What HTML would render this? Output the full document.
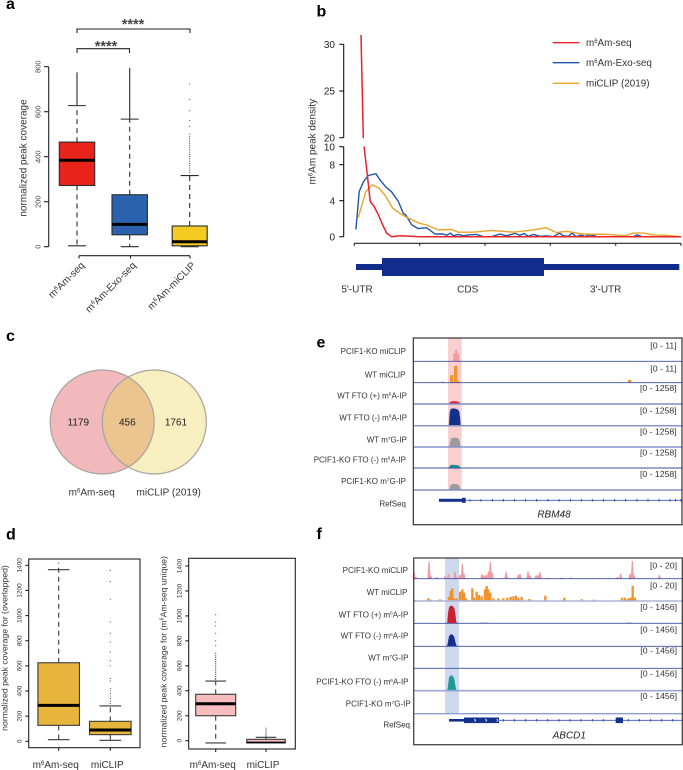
<!DOCTYPE html>
<html lang="en">
<head>
<meta charset="utf-8">
<title>m6Am peak figure</title>
<style>
html,body{margin:0;padding:0;background:#fff;}
svg{display:block;font-family:"Liberation Sans",Arial,sans-serif;}
.panel{font-size:16px;font-weight:bold;fill:#000;}
</style>
</head>
<body>
<svg id="fig" xmlns="http://www.w3.org/2000/svg" width="683" height="770" viewBox="0 0 683 770">
  <rect x="0" y="0" width="683" height="770" fill="#fff"/>
  <text class="panel" x="6" y="9">a</text>
  <text class="panel" x="316.5" y="16.5">b</text>
  <text class="panel" x="6" y="341">c</text>
  <text class="panel" x="6" y="539.5">d</text>
  <text class="panel" x="316.5" y="347.5">e</text>
  <text class="panel" x="316.5" y="539">f</text>
  <g id="panelA"></g>
  <g id="panelB"></g>
  <g id="panelC"></g>
  <g id="panelD"></g>
  <g id="panelE"></g>
  <g id="panelF"></g>
</svg>
<script>
// ---------- Panel a data ----------
const aCategories = ['m^6Am-seq', 'm^6Am-Exo-seq', 'm^6Am-miCLIP'];
const aQ1 = [272, 53, 4];
const aMedian = [384, 99, 22];
const aQ3 = [465, 231, 92];
const aCapHigh = [627, 567, 316];
const aCapLow = [4, 0, 0];
const aDenseTop = [775, 795, 0];
const aOutliers = [[], [], [723, 655, 604, 560, 535, 500, 490, 480, 470, 460, 450, 440, 430, 420, 410, 400, 390, 380, 370, 360, 350, 340, 330]];
const aTicks = [0, 200, 400, 600, 800];

// ---------- Panel b data (x in percent of the metagene, y in density) ----------
const bTicksLower = [0, 4, 8, 10];
const bTicksUpper = [20, 25, 30];
const bPosTicks = [0, 20, 40, 60, 80, 100];
const redX = [2.04, 2.76, 3, 4.9, 6, 7.3, 8.7, 9.9, 11.4, 14, 17, 20.1, 100];
const redY = [31, 20, 10, 3.9, 3.4, 2.5, 1.3, 0.4, 0, 0.1, 0.05, 0, 0];
const blueX = [0.5, 1.5, 2.8, 4.3, 6.6, 7.9, 9.7, 11.4, 13.5, 15, 15.8, 17.6, 19.6, 22.1, 24.7, 27.2, 28.3, 29.5, 30.3, 31.8, 33.4, 34.9, 37.4, 39.5, 42, 44.6, 46.6, 49.2, 50.7, 51.9, 53.3, 54.8, 56.8, 58.9, 60.9, 62.8, 64, 65.5, 66.7, 67.9, 69.6, 70.6, 71.6, 73.2, 74.2, 85.4, 86.6, 88, 100];
const blueY = [0.8, 5, 6.1, 6.8, 7, 6.3, 5.5, 5, 3.9, 2.6, 2.4, 1.3, 0.9, 1, 0.3, 0.3, 0.15, 0.4, 0.1, 0.25, 0.1, 0.2, 0.25, 0, 0, 0.3, 0.1, 0.35, 0.15, 0.35, 0.05, 0.25, 0.05, 0.1, 0, 0.4, 0.1, 0.05, 0.4, 0, 0.2, 0, 0.2, 0.15, 0, 0, 0.2, 0, 0];
const orangeX = [1.2, 3.5, 5.5, 7.6, 9.4, 11.7, 13.5, 15.8, 18.1, 19.9, 22.1, 25.7, 29.8, 31.8, 36.4, 42, 48.7, 54.8, 58.7, 61.9, 65, 69.6, 77.8, 82.9, 85.4, 88.5, 91.5, 95.6, 100];
const orangeY = [2.1, 5, 5.75, 5.4, 4.6, 3.2, 2.7, 2.2, 1.8, 1.5, 1.3, 0.75, 0.8, 0.5, 0.5, 0.7, 0.5, 0.75, 1, 0.45, 0.6, 0.3, 0.25, 0.1, 0.4, 0.4, 0.2, 0.15, 0];
const bLegendLabels = ['m^6Am-seq', 'm^6Am-Exo-seq', 'miCLIP (2019)'];

// ---------- Panel c data ----------
const vennCounts = [1179, 456, 1761];
const vennLabels = ['m^6Am-seq', 'miCLIP (2019)'];

// ---------- Panel d data ----------
const dTicks = [0, 200, 400, 600, 800, 1000, 1200, 1400];
const dCategories = ['m^6Am-seq', 'miCLIP'];
const dLeftQ1 = [127, 53];
const dLeftMedian = [286, 90];
const dLeftQ3 = [625, 159];
const dLeftCapHigh = [1365, 281];
const dLeftCapLow = [13, 8];
const dLeftWhiskerEnd = [1420, 281];
const dLeftOutliers = [[], [1360, 1270, 1130, 950, 860, 790, 710, 640, 600, 500, 480, 420, 400, 380, 360, 340, 320, 300]];
const dRightQ1 = [200, -18];
const dRightMedian = [296, -13];
const dRightQ3 = [372, 11];
const dRightCapHigh = [478, 27];
const dRightCapLow = [-18, -18];
const dRightOutliers = [[1010, 950, 920, 860, 800, 760, 700, 680, 665, 650, 635, 620, 605, 590, 575, 560, 545, 530, 515, 500, 490], [100, 85, 70, 55, 45, 35]];

// ---------- Panel e data (window units across the browser view, signal heights) ----------
const eLabels = ['PCIF1-KO miCLIP', 'WT miCLIP', 'WT FTO (+) m^6A-IP', 'WT FTO (-) m^6A-IP', 'WT m^7G-IP', 'PCIF1-KO FTO (-) m^6A-IP', 'PCIF1-KO m^7G-IP', 'RefSeq'];
const eRanges = ['[0 - 11]', '[0 - 11]', '[0 - 1258]', '[0 - 1258]', '[0 - 1258]', '[0 - 1258]', '[0 - 1258]'];
const eKoClipX = [460, 465, 472];
const eKoClipW = [5, 7, 6];
const eKoClipH = [24, 34, 22];
const eWtClipX = [424, 450, 462, 472, 984];
const eWtClipW = [8, 10, 10, 6, 10];
const eWtClipH = [3, 23, 50, 6, 8];
const ePeakX = [445, 447, 449, 452, 458, 468, 474, 478, 481, 482];
const eRedH = [0, 2, 5, 7, 8, 8, 7, 5, 2, 0];
const eNavyH = [0, 4, 40, 50, 52, 51, 48, 42, 20, 0];
const eGrayH = [0, 0, 8, 24, 28, 28, 26, 22, 8, 0];
const eTealH = [0, 2, 6, 9, 10, 9, 8, 6, 2, 0];
const eGray2H = [0, 0, 6, 15, 18, 18, 16, 13, 5, 0];
const eIntronTicks = [510, 543, 577, 610, 644, 677, 710, 744, 777, 811, 844, 877, 911, 944, 977, 1011, 1044, 1077, 1110, 1127, 1143];

// ---------- Panel f data ----------
const fLabels = ['PCIF1-KO miCLIP', 'WT miCLIP', 'WT FTO (+) m^6A-IP', 'WT FTO (-) m^6A-IP', 'WT m^7G-IP', 'PCIF1-KO FTO (-) m^6A-IP', 'PCIF1-KO m^7G-IP', 'RefSeq'];
const fRanges = ['[0 - 20]', '[0 - 20]', '[0 - 1456]', '[0 - 1456]', '[0 - 1456]', '[0 - 1456]', '[0 - 1456]'];
const fKoClipX = [342, 348, 387, 392, 410, 435, 445, 465, 470, 480, 487, 492, 546, 552, 558, 565, 571, 576, 618, 622, 655, 660, 684, 690, 708, 714, 720, 745, 785, 812, 878, 925, 952, 962, 990, 997, 1002, 1078];
const fKoClipH = [22, 5, 52, 10, 5, 8, 15, 22, 5, 12, 45, 15, 14, 10, 12, 22, 50, 20, 20, 6, 12, 15, 22, 10, 10, 12, 20, 3, 4, 4, 2, 3, 5, 15, 15, 53, 10, 12];
const fWtClipX = [345, 365, 385, 392, 420, 447, 452, 457, 462, 470, 480, 487, 492, 498, 505, 517, 522, 530, 537, 545, 555, 560, 565, 571, 580, 595, 610, 622, 632, 640, 648, 655, 665, 688, 736, 793, 845, 882, 966, 975, 985, 992, 998, 1005];
const fWtClipH = [3, 1, 8, 4, 5, 12, 30, 38, 8, 8, 28, 35, 25, 8, 3, 38, 10, 28, 18, 14, 35, 45, 35, 25, 8, 8, 8, 10, 12, 14, 16, 10, 12, 6, 16, 10, 5, 4, 10, 10, 8, 10, 45, 10];
const fPeakX = [439, 442, 444, 447, 452, 458, 463, 466, 469, 473];
const fRedH = [0, 3, 30, 48, 53, 52, 46, 30, 4, 0];
const fNavyH = [0, 3, 14, 30, 36, 35, 28, 14, 3, 0];
const fTealH = [0, 2, 14, 40, 46, 45, 36, 16, 3, 0];
const fFaintRedX = [535, 545, 562, 572, 975, 982, 992, 998];
const fFaintRedH = [0, 3, 3, 0, 0, 3, 3, 0];
const fIntronTicks = [610, 643, 677, 710, 743, 777, 810, 843, 877, 910, 985, 1018, 1052, 1085, 1118];

// ---------- helpers ----------
const NS = 'http://www.w3.org/2000/svg';
function mk(parent, tag, attrs, name) {
  const el = document.createElementNS(NS, tag);
  for (const k in attrs) el.setAttribute(k, attrs[k]);
  
  
  parent.appendChild(el);
  return el;
}
function txt(parent, str, attrs, name) {
  const el = mk(parent, 'text', attrs, name);
  const fs = parseFloat(attrs['font-size'] || 10);
  const parts = String(str).split(/\^(\d)/);
  if (parts.length === 1) { el.textContent = str; return el; }
  const up = fs * 0.32;
  const t1 = document.createElementNS(NS, 'tspan');
  t1.textContent = parts[0];
  el.appendChild(t1);
  const t2 = document.createElementNS(NS, 'tspan');
  t2.setAttribute('dy', -up);
  t2.setAttribute('font-size', fs * 0.6);
  t2.textContent = parts[1];
  el.appendChild(t2);
  const t3 = document.createElementNS(NS, 'tspan');
  t3.setAttribute('dy', up);
  t3.textContent = parts[2];
  el.appendChild(t3);
  return el;
}
function line(parent, x1, y1, x2, y2, stroke, w, name, dash) {
  const a = {x1: x1, y1: y1, x2: x2, y2: y2, stroke: stroke, 'stroke-width': w};
  if (dash) a['stroke-dasharray'] = dash;
  return mk(parent, 'line', a, name);
}
function drawBox(g, o) {
  const {cx, half, capHalf, y, q1, med, q3, capHi, capLo, top, outliers, fill, name} = o;
  const ink = o.ink || '#2b2b2b';
  const dash = '5 4';
  line(g, cx, y(q3), cx, y(top !== undefined ? Math.max(top, capHi) : capHi), ink, 1.1, name + '-upper-whisker', dash);
  line(g, cx, y(q1), cx, y(capLo), ink, 1.1, name + '-lower-whisker', dash);
  line(g, cx - capHalf, y(capHi), cx + capHalf, y(capHi), ink, 1.1, name + '-upper-cap');
  line(g, cx - capHalf, y(capLo), cx + capHalf, y(capLo), ink, 1.1, name + '-lower-cap');
  (outliers || []).forEach(v => {
    mk(g, 'circle', {cx: cx, cy: y(v), r: 0.55, fill: '#333'}, name + '-outlier');
  });
  mk(g, 'rect', {x: cx - half, y: y(q3), width: half * 2, height: y(q1) - y(q3), fill: fill, stroke: ink, 'stroke-width': 1.1}, name + '-box');
  line(g, cx - half, y(med), cx + half, y(med), '#000', o.medW || 3, name + '-median');
}

// ---------- Panel a ----------
(function () {
  const g = document.getElementById('panelA');
  const y = v => 246.7 - v * 0.225;
  const centers = [77, 129.7, 189.7];
  const halves = [17.7, 17.7, 17.5];
  const colors = ['#e8231b', '#2a62ae', '#f3cb23'];
  line(g, 48.7, y(0), 48.7, y(800), '#222', 1.1, 'y-axis-line');
  aTicks.forEach(t => {
    line(g, 44, y(t), 48.7, y(t), '#222', 1.1, 'y-axis-tick');
    txt(g, t, {x: 40.7, y: y(t), transform: 'rotate(-90 40.7 ' + y(t) + ')', 'font-size': 7.5, fill: '#444', 'text-anchor': 'middle'}, 'y-tick-label');
  });
  txt(g, 'normalized peak coverage', {x: 26.5, y: 158, transform: 'rotate(-90 26.5 158)', 'font-size': 10, fill: '#333', 'text-anchor': 'middle'}, 'y-axis-title');
  aCategories.forEach((c, i) => {
    if (aDenseTop[i]) line(g, centers[i], y(aCapHigh[i]), centers[i], y(aDenseTop[i]), '#2b2b2b', 1.1, 'outlier-run-' + i);
    drawBox(g, {cx: centers[i], half: halves[i], capHalf: 9, y: y, q1: aQ1[i], med: aMedian[i], q3: aQ3[i], capHi: aCapHigh[i], capLo: aCapLow[i], outliers: aOutliers[i], fill: colors[i], name: 'box-' + i});
  });
  const axisTicks = [79, 130.5, 190];
  line(g, 79, 255.7, 190, 255.7, '#222', 1.1, 'x-axis-line');
  axisTicks.forEach((x, i) => {
    line(g, x, 255.7, x, 258.5, '#222', 1.1, 'x-axis-tick');
    txt(g, aCategories[i], {x: x + 6, y: 266, transform: 'rotate(-45 ' + (x + 6) + ' 266)', 'font-size': 10, fill: '#333', 'text-anchor': 'end'}, 'x-tick-label');
  });
  mk(g, 'path', {d: 'M77 33V29H190V33', fill: 'none', stroke: '#222', 'stroke-width': 1.1}, 'significance-bracket-top');
  mk(g, 'path', {d: 'M77 53V48.7H129.5V53', fill: 'none', stroke: '#222', 'stroke-width': 1.1}, 'significance-bracket-lower');
  txt(g, '****', {x: 133, y: 29, 'font-size': 14.5, 'font-weight': 'bold', fill: '#444', 'text-anchor': 'middle'}, 'significance-stars-top');
  txt(g, '****', {x: 106, y: 51, 'font-size': 14.5, 'font-weight': 'bold', fill: '#444', 'text-anchor': 'middle'}, 'significance-stars-lower');
})();

// ---------- Panel b ----------
(function () {
  const g = document.getElementById('panelB');
  const x = p => 354.3 + p * 3.267;
  const y = v => {
    if (v <= 10) return 236.7 - v * 9;
    if (v < 20) return 146.7 - (v - 10) * 0.9;
    return 137.7 - (v - 20) * 9.34;
  };
  line(g, 343.7, 236.7, 343.7, 146.7, '#111', 1.1, 'y-axis-lower');
  line(g, 343.7, 137.7, 343.7, 44.3, '#111', 1.1, 'y-axis-upper');
  bTicksLower.concat(bTicksUpper).forEach(t => {
    line(g, 339.3, y(t), 343.7, y(t), '#111', 1.1, 'y-axis-tick');
    txt(g, t, {x: 335, y: y(t) + 3.6, 'font-size': 10, fill: '#222', 'text-anchor': 'end'}, 'y-tick-label');
  });
  txt(g, 'm^6Am peak density', {x: 315.5, y: 141.7, transform: 'rotate(-90 315.5 141.7)', 'font-size': 10, fill: '#333', 'text-anchor': 'middle'}, 'y-axis-title');
  line(g, x(0), 243.3, x(100), 243.3, '#222', 1.1, 'x-axis-line');
  bPosTicks.forEach(t => line(g, x(t), 243.3, x(t), 245.8, '#222', 1.1, 'x-axis-tick'));
  const series = [[blueX, blueY, '#2256a8', 'exo-seq-line', 1.4], [orangeX, orangeY, '#e9a32a', 'miclip-line', 1.4], [redX, redY, '#e8232a', 'm6am-seq-line', 1.5]];
  series.forEach(s => {
    const pts = s[0].map((p, i) => x(p).toFixed(1) + ',' + y(s[1][i]).toFixed(1)).join(' ');
    mk(g, 'polyline', {points: pts, fill: 'none', stroke: s[2], 'stroke-width': s[4], 'stroke-linejoin': 'round'}, s[3]);
  });
  mk(g, 'rect', {x: 355, y: 138.2, width: 20, height: 8.3, fill: '#fff'}, 'axis-break-gap');
  const legendColors = ['#e8232a', '#2256a8', '#e9a32a'];
  const legendY = [42.7, 62.7, 83.3];
  bLegendLabels.forEach((l, i) => {
    line(g, 552.7, legendY[i], 579.3, legendY[i], legendColors[i], 1.4, 'legend-line');
    txt(g, l, {x: 586, y: legendY[i] + 3.4, 'font-size': 9.9, fill: '#333'}, 'legend-label');
  });
  mk(g, 'rect', {x: 356, y: 264, width: 323.3, height: 6, fill: '#122c8c'}, 'utr-bar');
  mk(g, 'rect', {x: 382, y: 258, width: 162, height: 18, fill: '#122c8c'}, 'cds-bar');
  txt(g, "5'-UTR", {x: 357, y: 292.7, 'font-size': 10, fill: '#333', 'text-anchor': 'middle'}, 'five-utr-label');
  txt(g, 'CDS', {x: 467.7, y: 292.7, 'font-size': 10, fill: '#333', 'text-anchor': 'middle'}, 'cds-label');
  txt(g, "3'-UTR", {x: 605.7, y: 292.7, 'font-size': 10, fill: '#333', 'text-anchor': 'middle'}, 'three-utr-label');
})();

// ---------- Panel c ----------
(function () {
  const g = document.getElementById('panelC');
  const ry = 52;
  const cxL = 102.2, cxR = 154.3, cy = 422;
  mk(g, 'circle', {cx: cxL, cy: cy, r: ry, fill: '#f2b9bc'}, 'venn-circle-left');
  mk(g, 'circle', {cx: cxR, cy: cy, r: ry, fill: '#f7efc0'}, 'venn-circle-right');
  const h = Math.sqrt(ry * ry - Math.pow((cxR - cxL) / 2, 2));
  const mx = (cxL + cxR) / 2;
  mk(g, 'path', {d: 'M' + mx + ' ' + (cy - h) + 'A' + ry + ' ' + ry + ' 0 0 1 ' + mx + ' ' + (cy + h) + 'A' + ry + ' ' + ry + ' 0 0 1 ' + mx + ' ' + (cy - h) + 'Z', fill: '#ebc48f'}, 'venn-overlap');
  mk(g, 'circle', {cx: cxL, cy: cy, r: ry, fill: 'none', stroke: '#a8a4a0', 'stroke-width': 1.2}, 'venn-outline-left');
  mk(g, 'circle', {cx: cxR, cy: cy, r: ry, fill: 'none', stroke: '#a8a4a0', 'stroke-width': 1.2}, 'venn-outline-right');
  const countX = [78.3, 127.3, 176];
  vennCounts.forEach((c, i) => txt(g, c, {x: countX[i], y: 425.5, 'font-size': 10, fill: '#222', 'text-anchor': 'middle'}, 'venn-count'));
  const labelX = [91.7, 168.7];
  vennLabels.forEach((l, i) => txt(g, l, {x: labelX[i], y: 495.7, 'font-size': 10, fill: '#333', 'text-anchor': 'middle'}, 'venn-label'));
})();

// ---------- Panel d ----------
(function () {
  const g = document.getElementById('panelD');
  function axes(left, right, top, bottom, y, labelX, titleX, titleY, title, centers, name) {
    mk(g, 'rect', {x: left, y: top, width: right - left, height: bottom - top, fill: 'none', stroke: '#222', 'stroke-width': 1.1}, name + '-frame');
    dTicks.forEach(t => {
      line(g, left - 3.4, y(t), left, y(t), '#222', 1.1, name + '-y-tick');
      txt(g, t, {x: labelX, y: y(t), transform: 'rotate(-90 ' + labelX + ' ' + y(t) + ')', 'font-size': 6.5, fill: '#333', 'text-anchor': 'middle'}, name + '-y-tick-label');
    });
    txt(g, title, {x: titleX, y: titleY, transform: 'rotate(-90 ' + titleX + ' ' + titleY + ')', 'font-size': 8.7, fill: '#333', 'text-anchor': 'middle'}, name + '-y-axis-title');
    centers.forEach((c, i) => {
      line(g, c, bottom, c, bottom + 3, '#222', 1.1, name + '-x-tick');
      txt(g, dCategories[i], {x: c - 3, y: 768, 'font-size': 10, fill: '#333', 'text-anchor': 'middle'}, name + '-x-tick-label');
    });
  }
  const yL = v => 741.3 - v * 0.1257;
  const yR = v => 740.7 - v * 0.1248;
  const cL = [58.7, 110.3], cR = [215.7, 266];
  axes(28.7, 140, 559, 747.7, yL, 21.3, 7.3, 648, 'normalized peak coverage for (overlapped)', cL, 'overlapped-plot');
  axes(188.7, 295.3, 558.3, 749, yR, 181.5, 166.5, 651.7, 'normalized peak coverage for (m^6Am-seq unique)', cR, 'unique-plot');
  dCategories.forEach((c, i) => {
    drawBox(g, {cx: cL[i], half: 20.8, capHalf: 10.8, y: yL, q1: dLeftQ1[i], med: dLeftMedian[i], q3: dLeftQ3[i], capHi: dLeftCapHigh[i], capLo: dLeftCapLow[i], top: dLeftWhiskerEnd[i], outliers: dLeftOutliers[i], fill: '#e7b53c', ink: '#3a3a3a', name: 'overlapped-box-' + i});
    drawBox(g, {cx: cR[i], half: i ? 19.3 : 20, capHalf: 10.3, y: yR, q1: dRightQ1[i], med: dRightMedian[i], q3: dRightQ3[i], capHi: dRightCapHigh[i], capLo: dRightCapLow[i], outliers: dRightOutliers[i], fill: '#f7bdbe', ink: '#3a3a3a', medW: i ? 1.5 : 3, name: 'unique-box-' + i});
  });
})();

// ---------- tracks ----------
const wx = u => 300 + u / 3;
function bars(g, xs, ws, hs, base, color, name) {
  xs.forEach((u, i) => {
    const w = ws ? ws[i] : 7;
    mk(g, 'rect', {x: wx(u - (ws ? 0 : w / 2)), y: base - hs[i] / 3, width: w / 3, height: hs[i] / 3, fill: color}, name);
  });
}
function spikes(g, xs, hs, base, color, name) {
  xs.forEach((u, i) => {
    const top = base - hs[i] / 3;
    const pts = [wx(u - 5) + ',' + base, wx(u - 1.5) + ',' + top, wx(u + 1.5) + ',' + top, wx(u + 5) + ',' + base].join(' ');
    mk(g, 'polygon', {points: pts, fill: color}, name);
  });
}
function area(g, xs, hs, base, color, name) {
  const pts = xs.map((u, i) => wx(u).toFixed(1) + ',' + (base - hs[i] / 3).toFixed(1)).join(' ');
  mk(g, 'polygon', {points: pts, fill: color}, name);
}

// ---------- Panel e ----------
(function () {
  const g = document.getElementById('panelE');
  const seps = [361.3, 382.7, 404, 425.7, 447, 468, 490];
  const sepW = [0.9, 0.9, 1.5, 1.5, 1.5, 0.9, 1.5];
  const sepC = ['#3a50a6', '#3a50a6', '#7f8fc8', '#8494cc', '#8494cc', '#3a50a6', '#7f8fc8'];
  mk(g, 'rect', {x: 448, y: 338, width: 13.7, height: 152, fill: '#f9cfd0'}, 'highlight-band');
  bars(g, eKoClipX, eKoClipW, eKoClipH, seps[0], '#f29aa0', 'ko-miclip-signal');
  bars(g, eWtClipX, eWtClipW, eWtClipH, seps[1], '#f0932f', 'wt-miclip-signal');
  area(g, ePeakX, eRedH, seps[2], '#e0202a', 'fto-plus-signal');
  area(g, ePeakX, eNavyH, seps[3], '#14308e', 'fto-minus-signal');
  area(g, ePeakX, eGrayH, seps[4], '#9b9b9b', 'm7g-signal');
  area(g, ePeakX, eTealH, seps[5], '#1d8f8f', 'ko-fto-minus-signal');
  area(g, ePeakX, eGray2H, seps[6], '#9b9b9b', 'ko-m7g-signal');
  seps.forEach((s, i) => line(g, 413.3, s, 682, s, sepC[i], sepW[i], 'track-separator'));
  const labelY = [354, 377.7, 398.3, 420.3, 442.7, 462.3, 484, 506.7];
  const labelRight = [406, 405.5, 407, 407, 407, 406, 406, 406];
  eLabels.forEach((l, i) => txt(g, l, {x: labelRight[i], y: labelY[i], 'font-size': 8, fill: '#333', 'text-anchor': 'end'}, 'track-label'));
  const rangeY = [348.3, 371.7, 391, 413.3, 434.7, 455.7, 477];
  eRanges.forEach((l, i) => txt(g, l, {x: 676.7, y: rangeY[i], 'font-size': 8.7, fill: '#333', 'text-anchor': 'end'}, 'track-range'));
  line(g, wx(497), 500.3, 682, 500.3, '#3a55b5', 0.8, 'refseq-intron-line');
  eIntronTicks.forEach(u => line(g, wx(u), 499, wx(u), 501.6, '#2a45a5', 0.9, 'refseq-intron-marker'));
  mk(g, 'rect', {x: wx(417), y: 498.8, width: 24.3, height: 3, fill: '#14308e'}, 'refseq-utr');
  mk(g, 'rect', {x: wx(486), y: 497.8, width: 3.7, height: 5, fill: '#14308e'}, 'refseq-exon');
  txt(g, 'RBM48', {x: 554, y: 517.3, 'font-size': 10, 'font-style': 'italic', fill: '#222', 'text-anchor': 'middle'}, 'gene-name');
  mk(g, 'rect', {x: 413.3, y: 338, width: 268.7, height: 186.7, fill: 'none', stroke: '#333', 'stroke-width': 1.2}, 'track-frame');
})();

// ---------- Panel f ----------
(function () {
  const g = document.getElementById('panelF');
  const seps = [578.7, 601, 623.3, 646.3, 668.3, 690.7, 713.7];
  const sepW = [0.9, 1.6, 0.9, 0.9, 0.9, 1.6, 1.4];
  const sepC = ['#3a50a6', '#aab5da', '#3a50a6', '#3a50a6', '#3a50a6', '#9aa7d4', '#8f9dd0'];
  mk(g, 'rect', {x: 445, y: 558, width: 14, height: 155.7, fill: '#cfd9ed'}, 'highlight-band');
  spikes(g, fKoClipX, fKoClipH, seps[0], '#f29aa0', 'ko-miclip-signal');
  bars(g, fWtClipX, null, fWtClipH, seps[1], '#f0932f', 'wt-miclip-signal');
  area(g, fPeakX, fRedH, seps[2], '#c8202c', 'fto-plus-signal');
  area(g, fFaintRedX, fFaintRedH, seps[2], '#f0b0b0', 'fto-plus-minor-signal');
  area(g, fPeakX, fNavyH, seps[3], '#14308e', 'fto-minus-signal');
  area(g, fPeakX, fTealH, seps[5], '#1d9a98', 'ko-fto-minus-signal');
  seps.forEach((s, i) => line(g, 413.7, s, 682.3, s, sepC[i], sepW[i], 'track-separator'));
  const labelY = [573, 595, 617.3, 638.7, 660.7, 684.7, 706.7, 727.3];
  const labelRight = [408, 407.5, 408.3, 408.3, 408.5, 408.5, 410.7, 410];
  fLabels.forEach((l, i) => txt(g, l, {x: labelRight[i], y: labelY[i], 'font-size': 8, fill: '#333', 'text-anchor': 'end'}, 'track-label'));
  const rangeY = [568.3, 588.3, 610, 632.7, 653.3, 676.7, 699];
  fRanges.forEach((l, i) => txt(g, l, {x: 677, y: rangeY[i], 'font-size': 8.7, fill: '#333', 'text-anchor': 'end'}, 'track-range'));
  line(g, wx(597), 720.3, 682.3, 720.3, '#3a55b5', 0.8, 'refseq-intron-line');
  fIntronTicks.forEach(u => line(g, wx(u), 719, wx(u), 721.6, '#2a45a5', 0.9, 'refseq-intron-marker'));
  mk(g, 'rect', {x: wx(447), y: 719, width: 15, height: 2.6, fill: '#14308e'}, 'refseq-utr');
  mk(g, 'rect', {x: wx(492), y: 717.5, width: 35, height: 5.6, fill: '#14308e'}, 'refseq-exon-large');
  mk(g, 'rect', {x: wx(947), y: 717.5, width: 7.3, height: 5.6, fill: '#14308e'}, 'refseq-exon-small');
  const chevrons = [525, 558, 592];
  chevrons.forEach(u => mk(g, 'path', {d: 'M' + (wx(u) - 0.8) + ' 719L' + (wx(u) + 0.8) + ' 720.3L' + (wx(u) - 0.8) + ' 721.6', fill: 'none', stroke: '#fff', 'stroke-width': 0.7}, 'refseq-strand-chevron'));
  txt(g, 'ABCD1', {x: 569.3, y: 738.3, 'font-size': 10, 'font-style': 'italic', fill: '#222', 'text-anchor': 'middle'}, 'gene-name');
  mk(g, 'rect', {x: 413.7, y: 558, width: 268.6, height: 186.7, fill: 'none', stroke: '#444', 'stroke-width': 1.3}, 'track-frame');
})();
</script>
</body>
</html>
